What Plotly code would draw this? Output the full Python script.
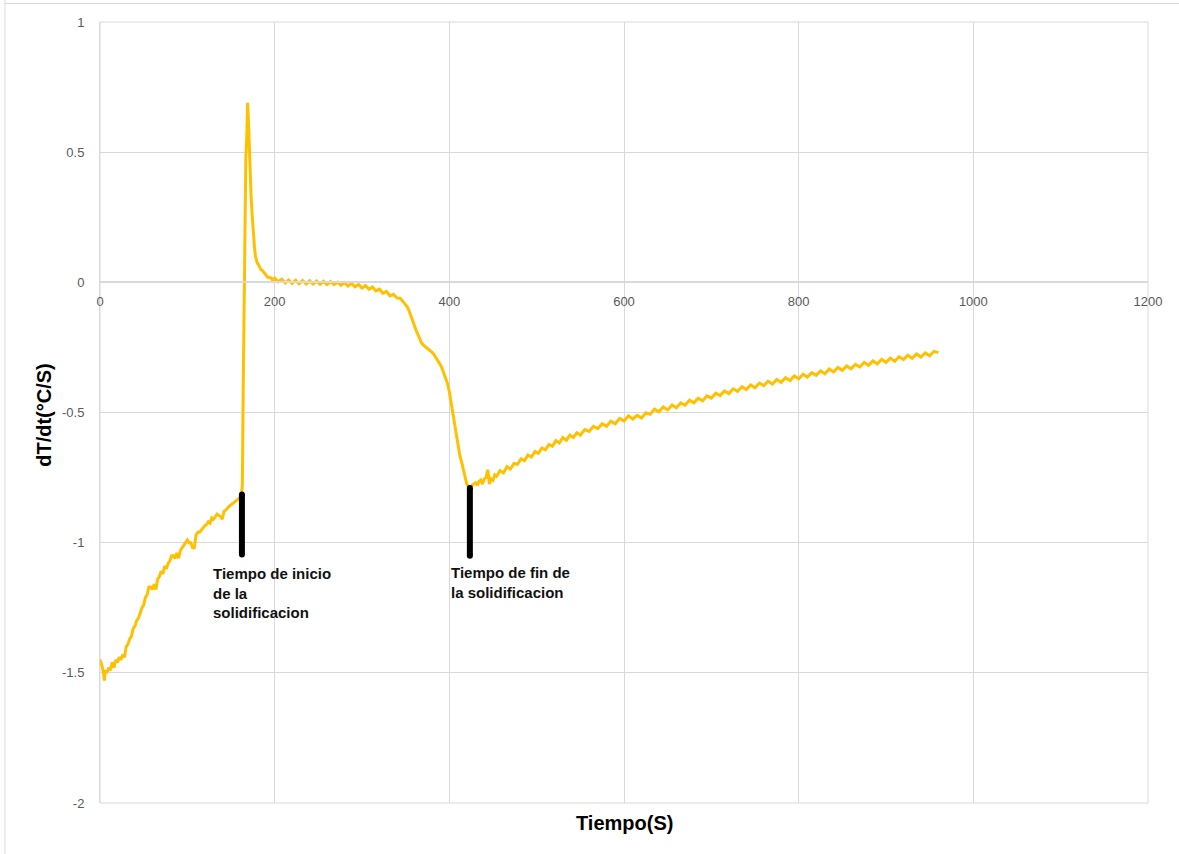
import plotly.graph_objects as go

# ---------------- data ----------------
tiempo = [
    0, 2, 4, 5, 6, 8, 10, 12, 14, 16, 18, 20, 22, 24, 26, 28, 30, 32, 34, 36, 38, 40,
    42, 44, 46, 48, 50, 52, 54, 56, 58, 60, 62, 64, 66, 68, 70, 72, 74, 76, 78, 80,
    82, 84, 86, 88, 90, 92, 94, 96, 98, 100, 102, 104, 106, 108, 110, 112, 114, 116,
    118, 120, 122, 124, 126, 128, 130, 132, 134, 136, 138, 140, 142, 144, 146, 148,
    150, 152, 154, 156, 158, 160, 162,
    163, 164, 165, 166, 167, 168, 169, 170, 171, 172, 173, 174, 175, 176, 177, 178,
    180, 182, 184, 186, 188, 190, 192, 194,
    196, 198, 200, 204, 208, 212, 216, 220, 224, 228, 232, 236, 240, 244, 248, 252,
    256, 260, 264, 268, 272, 276, 280, 284, 288, 292, 296, 300, 304, 308, 312, 316,
    320, 324, 328, 332, 336, 340, 344, 348, 352, 354, 356, 358, 360, 362, 364, 366,
    368, 370, 372, 374, 376, 378, 380, 382, 384, 386, 388, 390, 392, 394, 396, 398,
    400, 402, 404, 406, 408, 410, 412, 414, 416, 418, 420, 422, 424,
    426, 428, 430, 432, 434, 436, 438, 440, 442, 444, 446, 448, 450, 452, 454, 456,
    458, 462, 466, 470, 474, 478, 482, 486, 490, 494, 498, 502, 506, 510, 514, 518,
    522, 526, 530, 534, 538, 542, 546, 550, 555, 560, 565, 570, 575, 580, 585, 590,
    595, 600, 605, 610, 615, 620, 625, 630, 635, 640, 645, 650, 655, 660, 665, 670,
    675, 680, 685, 690, 695, 700, 705, 710, 715, 720, 725, 730, 735, 740, 745, 750,
    755, 760, 765, 770, 775, 780, 785, 790, 795, 800, 805, 810, 815, 820, 825, 830,
    835, 840, 845, 850, 855, 860, 865, 870, 875, 880, 885, 890, 895, 900, 905, 910,
    915, 920, 925, 930, 935, 940, 945, 950, 955, 960,
]

dTdt = [
    # enfriamiento del liquido (0 - 162 s)
    -1.45, -1.47, -1.50, -1.53, -1.49, -1.50, -1.48, -1.49, -1.46, -1.48, -1.45, -1.46,
    -1.44, -1.45, -1.43, -1.44, -1.40, -1.39, -1.37, -1.36, -1.33, -1.32,
    -1.30, -1.29, -1.27, -1.25, -1.24, -1.21, -1.20, -1.17, -1.17, -1.18, -1.16, -1.18,
    -1.14, -1.13, -1.11, -1.12, -1.09, -1.10, -1.08, -1.07,
    -1.05, -1.05, -1.06, -1.04, -1.06, -1.03, -1.02, -1.01, -1.00, -0.99, -1.00, -1.00,
    -1.02, -1.02, -0.97, -0.96, -0.96, -0.95,
    -0.94, -0.935, -0.93, -0.92, -0.925, -0.905, -0.91, -0.90, -0.89, -0.895, -0.90,
    -0.91, -0.88, -0.875, -0.865, -0.86,
    -0.855, -0.85, -0.845, -0.84, -0.835, -0.828, -0.815,
    # pico de recalescencia (163 - 194 s)
    -0.78, -0.40, -0.05, 0.30, 0.48, 0.55, 0.69, 0.62, 0.50, 0.40, 0.33, 0.27, 0.21,
    0.17, 0.13, 0.10,
    0.075, 0.065, 0.05, 0.045, 0.035, 0.03, 0.02, 0.018,
    # meseta (196 - 340 s)
    0.018, 0.006, 0.016, 0.002, 0.012, -0.002, 0.009, -0.004, 0.008, -0.005, 0.007,
    -0.006, 0.006, -0.006, 0.005, -0.007,
    0.004, -0.008, 0.003, -0.009, 0.001, -0.011, -0.001, -0.014, -0.004, -0.017,
    -0.008, -0.022, -0.012, -0.027, -0.018, -0.033,
    -0.026, -0.042, -0.035, -0.052, -0.046, -0.060,
    # caida hasta el fin de la solidificacion (344 - 424 s)
    -0.062, -0.078, -0.095, -0.11, -0.13, -0.15, -0.17, -0.185, -0.20, -0.22,
    -0.232, -0.24, -0.245, -0.25, -0.255, -0.262, -0.268, -0.275, -0.285, -0.293,
    -0.305, -0.318, -0.333, -0.350, -0.37, -0.39,
    -0.42, -0.46, -0.50, -0.55, -0.595, -0.63, -0.665, -0.69, -0.72, -0.75, -0.775,
    -0.785, -0.79,
    # enfriamiento del solido (426 - 960 s)
    -0.78, -0.775, -0.77, -0.78, -0.765, -0.76, -0.775, -0.755, -0.75, -0.72, -0.775,
    -0.755, -0.76, -0.74, -0.745, -0.735,
    -0.723, -0.732, -0.708, -0.717, -0.696, -0.699, -0.678, -0.685, -0.663, -0.671,
    -0.650, -0.657, -0.636, -0.643, -0.623, -0.630,
    -0.608, -0.617, -0.596, -0.607, -0.587, -0.596, -0.578, -0.587, -0.566, -0.573,
    -0.553, -0.562, -0.543, -0.553, -0.533, -0.543,
    -0.523, -0.533, -0.513, -0.525, -0.511, -0.521, -0.501, -0.507, -0.487, -0.497,
    -0.479, -0.490, -0.471, -0.482, -0.463, -0.472,
    -0.453, -0.463, -0.445, -0.455, -0.436, -0.445, -0.426, -0.435, -0.417, -0.427,
    -0.409, -0.419, -0.401, -0.412, -0.394, -0.405,
    -0.387, -0.397, -0.380, -0.391, -0.373, -0.384, -0.366, -0.377, -0.360, -0.371,
    -0.353, -0.364, -0.347, -0.357, -0.340, -0.351,
    -0.333, -0.344, -0.327, -0.338, -0.321, -0.332, -0.315, -0.325, -0.308, -0.319,
    -0.302, -0.313, -0.296, -0.307, -0.291, -0.303,
    -0.286, -0.297, -0.280, -0.292, -0.275, -0.287, -0.271, -0.282, -0.265, -0.270,
]
assert len(tiempo) == len(dTdt)

# Vertical black markers (start / end of solidification)
marca_t = [162.5, 423.5]
marca_y_sup = [-0.815, -0.79]
marca_y_inf = [-1.045, -1.05]
marca_texto = ["Tiempo de inicio<br>de la<br>solidificacion",
               "Tiempo de fin de<br>la solidificacion"]
texto_t = [127.0, 399.5]
texto_y = [-1.080, -1.074]

x_rango = [0, 1200]
y_rango = [-2, 1]
x_ticks = [0, 200, 400, 600, 800, 1000, 1200]
y_ticks = [-2, -1.5, -1, -0.5, 0, 0.5, 1]
y_tick_text = ["-2", "-1.5", "-1", "-0.5", "0", "0.5", "1"]
x_titulo = "Tiempo(S)"
y_titulo = "dT/dt(°C/S)"

# ---------------- figure ----------------
GRID = "#d9d9d9"
TICKFONT = dict(family="Liberation Sans", size=13, color="#595959")

fig = go.Figure()

fig.add_trace(go.Scatter(
    x=tiempo, y=dTdt, mode="lines",
    line=dict(color="#FFC000", width=3),
    showlegend=False, hoverinfo="x+y",
))

for t, ys, yi in zip(marca_t, marca_y_sup, marca_y_inf):
    fig.add_trace(go.Scatter(
        x=[t, t], y=[ys, yi], mode="lines+markers",
        line=dict(color="black", width=6),
        marker=dict(color="black", size=6),
        showlegend=False, hoverinfo="skip",
    ))

for txt, tx, ty in zip(marca_texto, texto_t, texto_y):
    fig.add_annotation(
        x=tx, y=ty, xref="x", yref="y", text=f"<b>{txt}</b>",
        showarrow=False, xanchor="left", yanchor="top", align="left",
        font=dict(family="Liberation Sans", size=15, color="#111111"),
    )

# Axis titles as annotations (x axis is drawn at y = 0)
fig.add_annotation(
    x=0.5, y=-0.009, xref="paper", yref="paper", text=f"<b>{x_titulo}</b>",
    showarrow=False, xanchor="center", yanchor="top",
    font=dict(family="Liberation Sans", size=20, color="#000000"),
)
fig.add_annotation(
    x=-0.0535, y=0.497, xref="paper", yref="paper", text=f"<b>{y_titulo}</b>",
    showarrow=False, textangle=-90, xanchor="center", yanchor="middle",
    font=dict(family="Liberation Sans", size=20, color="#000000"),
)

fig.update_layout(
    width=1179, height=854,
    margin=dict(l=100, r=31, t=22, b=51),
    paper_bgcolor="white", plot_bgcolor="white",
    xaxis=dict(
        range=x_rango, tickvals=x_ticks, showgrid=True, gridcolor=GRID, gridwidth=1,
        zeroline=False, showline=True, linecolor=GRID, linewidth=2,
        anchor="free", position=(0 - y_rango[0]) / (y_rango[1] - y_rango[0]),
        ticks="", tickfont=TICKFONT, ticklabelstandoff=7,
    ),
    yaxis=dict(
        range=y_rango, tickvals=y_ticks, ticktext=y_tick_text, showgrid=True,
        gridcolor=GRID, gridwidth=1, zeroline=False, showline=True, linecolor=GRID,
        linewidth=1, ticks="", tickfont=TICKFONT, ticklabelstandoff=12,
    ),
    shapes=[
        dict(type="rect", xref="paper", yref="paper", x0=0, x1=1, y0=0, y1=1,
             line=dict(color=GRID, width=1), layer="below"),
        dict(type="line", xref="paper", yref="paper", x0=-0.0907, x1=1.03,
             y0=1.0237, y1=1.0237, line=dict(color="#d9d9d9", width=1)),
        dict(type="line", xref="paper", yref="paper", x0=-0.0907, x1=-0.0907,
             y0=1.03, y1=-0.07, line=dict(color="#d9d9d9", width=1)),
    ],
)

fig.write_html("out.html")
